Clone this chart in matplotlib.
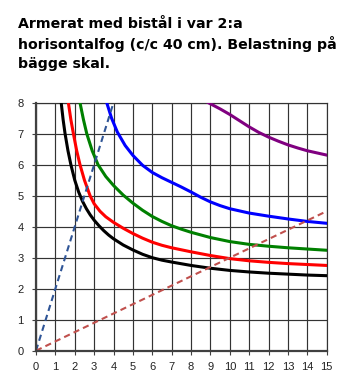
import matplotlib
matplotlib.use("Agg")
import matplotlib.pyplot as plt

title_lines = ["Armerat med bistål i var 2:a",
               "horisontalfog (c/c 40 cm). Belastning på",
               "bägge skal."]

x_ticks = list(range(0, 16))
y_ticks = list(range(0, 9))

# Capacity curves (x, y pairs)
black_x = [1.3, 1.4, 1.5, 1.65, 1.8, 2.0, 2.2, 2.4, 2.6, 2.8, 3.0, 3.25, 3.5, 3.75,
           4.0, 4.5, 5, 5.5, 6, 6.5, 7, 8, 9, 10, 11, 12, 13, 14, 15]
black_y = [8.0, 7.45, 7.0, 6.45, 6.0, 5.5, 5.12, 4.82, 4.58, 4.38, 4.21, 4.03, 3.87, 3.73,
           3.61, 3.41, 3.25, 3.11, 3.0, 2.92, 2.86, 2.75, 2.66, 2.59, 2.54, 2.5, 2.47, 2.44, 2.42]

red_x = [1.67, 1.8, 1.93, 2.1, 2.27, 2.5, 2.79, 3.0, 3.3, 3.6, 4.0, 4.5, 5, 5.5, 6, 6.5,
         7, 8, 9, 10, 11, 12, 13, 14, 15]
red_y = [8.0, 7.45, 7.0, 6.45, 6.0, 5.5, 5.0, 4.74, 4.5, 4.32, 4.14, 3.95, 3.78, 3.63, 3.5, 3.4,
         3.32, 3.19, 3.07, 2.97, 2.9, 2.85, 2.81, 2.78, 2.75]

green_x = [2.27, 2.45, 2.62, 2.9, 3.2, 3.6, 4.0, 4.5, 5, 5.5, 6, 6.5, 7, 7.5, 8, 9, 10,
           11, 12, 13, 14, 15]
green_y = [8.0, 7.45, 7.0, 6.45, 6.0, 5.62, 5.33, 5.02, 4.76, 4.53, 4.33, 4.17, 4.03, 3.92,
           3.82, 3.65, 3.52, 3.43, 3.37, 3.32, 3.28, 3.24]

blue_x = [3.65, 3.9, 4.2, 4.6, 5.0, 5.5, 6, 6.5, 7, 7.5, 8, 8.5, 9, 9.5, 10, 11, 12, 13, 14, 15]
blue_y = [8.0, 7.5, 7.05, 6.62, 6.3, 5.98, 5.75, 5.58, 5.43, 5.28, 5.12, 4.95, 4.8, 4.68,
          4.58, 4.44, 4.34, 4.25, 4.17, 4.11]

purple_x = [8.89, 9.5, 10, 10.5, 11, 11.5, 12, 12.5, 13, 13.5, 14, 14.5, 15]
purple_y = [8.0, 7.8, 7.62, 7.42, 7.22, 7.04, 6.89, 6.76, 6.64, 6.54, 6.45, 6.38, 6.31]

# Straight reference lines
steep_x = [0, 4]
steep_y = [0, 8]
flat_x = [0, 15]
flat_y = [0, 4.5]

W, H = 341, 376
fig = plt.figure(figsize=(W / 100, H / 100), dpi=100)
ax = fig.add_axes([36/W, 1 - 350.7/H, (326.7 - 36)/W, (350.7 - 102.7)/H])

grid_c = "#333333"
for v in x_ticks:
    ax.axvline(v, color=grid_c, lw=0.85, zorder=1)
for v in y_ticks:
    ax.axhline(v, color=grid_c, lw=0.85, zorder=1)

lw = 2.2
for xs, ys, c in [(black_x, black_y, "black"), (red_x, red_y, "#FF0000"),
                  (green_x, green_y, "#008000"), (blue_x, blue_y, "#0000FF"),
                  (purple_x, purple_y, "#800080")]:
    ax.plot(xs, ys, color=c, lw=lw, zorder=3, solid_joinstyle="round")

ax.plot(steep_x, steep_y, color="#2F5597", lw=1.5, dashes=(3, 2), zorder=4)
ax.plot(flat_x, flat_y, color="#C0504D", lw=1.5, dashes=(3, 2), zorder=4)

ax.set_xlim(0, 15)
ax.set_ylim(0, 8)
ax.set_xticks(x_ticks)
ax.set_yticks(y_ticks)

for side in ["top", "right"]:
    ax.spines[side].set_linewidth(0.85)
    ax.spines[side].set_color(grid_c)
for side in ["left", "bottom"]:
    ax.spines[side].set_linewidth(1.6)
    ax.spines[side].set_color("#404040")
    ax.spines[side].set_zorder(5)

ax.tick_params(axis="both", direction="out", length=3, width=0.8, color="#404040",
               labelsize=8, labelcolor="#222222")
ax.tick_params(axis="y", pad=6)
ax.tick_params(axis="x", pad=5)
for lab in ax.get_xticklabels() + ax.get_yticklabels():
    lab.set_family(["Liberation Sans", "DejaVu Sans"])

# Title, one line at a time on fixed baselines
for line, base in zip(title_lines, [28, 48.5, 68]):
    fig.text(18/W, 1 - base/H, line, ha="left", va="baseline", fontsize=10.2,
             fontweight="bold", family=["DejaVu Sans"], color="black")

fig.savefig("out.png", dpi=100)
